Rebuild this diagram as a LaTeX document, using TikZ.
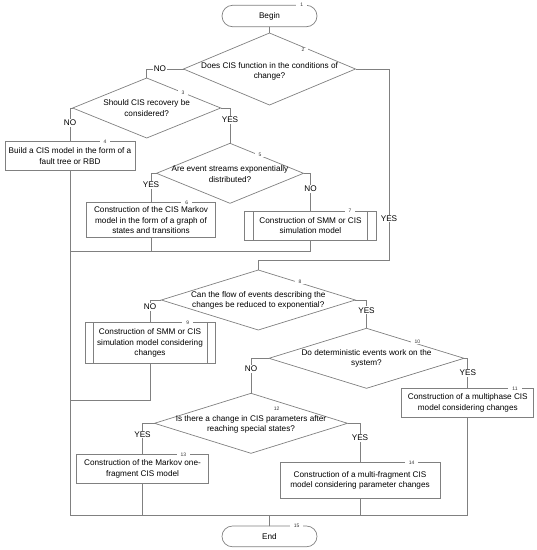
\documentclass[tikz,border=0pt]{standalone}
\usepackage{fontspec}
\setmainfont{Liberation Sans}
\usetikzlibrary{shapes.geometric,shapes.misc}
\definecolor{lc}{RGB}{128,128,128}
\begin{document}
\begin{tikzpicture}[x=1pt,y=-1pt,
  every node/.style={font=\fontsize{8.2}{10.2}\selectfont, outer sep=0pt},
  ln/.style={draw=lc, line width=0.7pt},
  box/.style={rectangle, draw=lc, line width=0.7pt, align=center, inner sep=0pt},
  dia/.style={diamond, draw=lc, line width=0.7pt, inner sep=0pt},
  term/.style={rounded rectangle, draw=lc, line width=0.7pt, inner sep=0pt},
  num/.style={fill=white, inner xsep=4pt, inner ysep=0.5pt, font=\fontsize{5}{6}\selectfont, text=black!80},
  yn/.style={fill=white, inner sep=1pt},
  txt/.style={align=center, inner sep=0pt}
]
\useasboundingbox (0,0) rectangle (537,550);

% nodes
\node[term, minimum width=95pt, minimum height=21.5pt] (n1) at (269.5,16) {Begin};
\node[dia, minimum width=172pt, minimum height=72pt] (d2) at (269.5,69) {};
\node[txt] (t2) at (269.5,71) {Does CIS function in the conditions of\\change?};
\node[dia, minimum width=148pt, minimum height=60pt] (d3) at (146.7,108) {};
\node[txt] (t3) at (146.7,108) {Should CIS recovery be\\considered?};
\node[box, minimum width=130pt, minimum height=28.5pt] (b4) at (70,156) {Build a CIS model in the form of a\\fault tree or RBD};
\node[dia, minimum width=147pt, minimum height=60pt] (d5) at (230,173.3) {};
\node[txt] (t5) at (230,174) {Are event streams exponentially\\distributed?};
\node[box, minimum width=129pt, minimum height=35pt] (b6) at (151,220.2) {Construction of the CIS Markov\\model in the form of a graph of\\states and transitions};
\node[box, minimum width=132pt, minimum height=29pt] (b7) at (310.5,225.5) {Construction of SMM or CIS\\simulation model};
\node[dia, minimum width=194pt, minimum height=60pt] (d8) at (258.3,300) {};
\node[txt] (t8) at (258.3,300) {Can the flow of events describing the\\changes be reduced to exponential?};
\node[box, minimum width=130pt, minimum height=40.6pt] (b9) at (150,343) {Construction of SMM or CIS\\simulation model considering\\changes};
\node[dia, minimum width=195pt, minimum height=60pt] (d10) at (366.5,358.3) {};
\node[txt] (t10) at (366.5,358.5) {Do deterministic events work on the\\system?};
\node[box, minimum width=132pt, minimum height=29pt] (b11) at (467.8,402.8) {Construction of a multiphase CIS\\model considering changes};
\node[dia, minimum width=193pt, minimum height=60pt] (d12) at (251,423.3) {};
\node[txt] (t12) at (251,424) {Is there a change in CIS parameters after\\reaching special states?};
\node[box, minimum width=132pt, minimum height=29pt] (b13) at (142.5,468.8) {Construction of the Markov one-\\fragment CIS model};
\node[box, minimum width=160pt, minimum height=36pt] (b14) at (360,480.3) {Construction of a multi-fragment CIS\\model considering parameter changes};
\node[term, minimum width=95pt, minimum height=20.7pt] (n15) at (269.5,536.4) {End};

% predefined-process side bars
\draw[ln] ([xshift=9pt]b7.north west) -- ([xshift=9pt]b7.south west);
\draw[ln] ([xshift=-9pt]b7.north east) -- ([xshift=-9pt]b7.south east);
\draw[ln] ([xshift=8pt]b9.north west) -- ([xshift=8pt]b9.south west);
\draw[ln] ([xshift=-8pt]b9.north east) -- ([xshift=-8pt]b9.south east);

% connectors
\draw[ln] (n1) -- (d2);
\draw[ln] (d2.west) -| node[yn, pos=0.32]{NO} (d3.north);
\draw[ln] (d3.west) -| node[yn, pos=0.72]{NO} (b4.north);
\draw[ln] (d3.east) -| node[yn, pos=0.67]{YES} (d5.north);
\draw[ln] (d5.west) -| node[yn, pos=0.7]{YES} (b6.north);
\draw[ln] (d5.east) -| node[yn, pos=0.71]{NO} (b7.north);
\coordinate (m2) at (70,251.7);
\draw[ln] (b7.south) |- (m2);
\draw[ln] (b6.south) -- (b6.south |- m2);
\coordinate (r1) at (389,69);
\coordinate (r2) at (389,260.7);
\draw[ln] (d2.east) -- (r1) -- node[yn, pos=0.78]{YES} (r2) -| (d8.north);
\draw[ln] (d8.west) -| node[yn, pos=0.65]{NO} (b9.north);
\coordinate (m3) at (70,400);
\draw[ln] (b9.south) |- (m3);
\draw[ln] (d8.east) -| node[yn, pos=0.68]{YES} (d10.north);
\draw[ln] (d10.west) -| node[yn, pos=0.65]{NO} (d12.north);
\draw[ln] (d10.east) -| node[yn, pos=0.74]{YES} (b11.north);
\draw[ln] (d12.west) -| node[yn, pos=0.68]{YES} (b13.north);
\draw[ln] (d12.east) -| node[yn, pos=0.69]{YES} (b14.north);
\coordinate (m1) at (70,515);
\coordinate (m4) at (467.8,515);
\draw[ln] (b4.south) -- (m1) -- (m4) -- (b11.south);
\draw[ln] (b13.south) -- (b13.south |- m1);
\draw[ln] (b14.south) -- (b14.south |- m1);
\draw[ln] (n15.north |- m1) -- (n15);

% step numbers
\node[num] (l1) at (301.7,5.2) {1};
\node[num] (l2) at (303,50) {2};
\node[num] (l3) at (183,92.7) {3};
\node[num] (l4) at (105,141.9) {4};
\node[num] (l5) at (260,155) {5};
\node[num] (l6) at (186.7,202.9) {6};
\node[num] (l7) at (350,211.2) {7};
\node[num] (l8) at (300,281.7) {8};
\node[num] (l9) at (187.7,322.9) {9};
\node[num] (l10) at (417.3,341.7) {10};
\node[num] (l11) at (515,388.5) {11};
\node[num] (l12) at (276.7,408.3) {12};
\node[num] (l13) at (183.3,454.5) {13};
\node[num] (l14) at (411.7,462.5) {14};
\node[num] (l15) at (296.7,526.2) {15};
\end{tikzpicture}
\end{document}
